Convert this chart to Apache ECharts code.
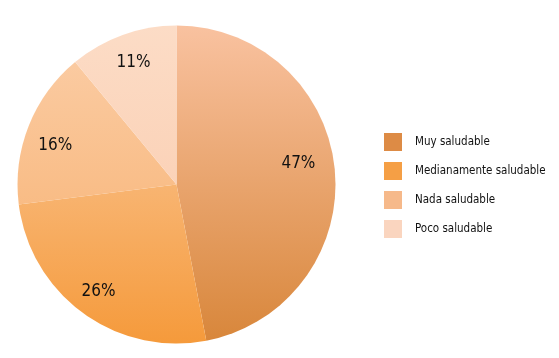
<!DOCTYPE html>
<html><head><meta charset="utf-8">
<script src="https://cdn.jsdelivr.net/npm/echarts@6/dist/echarts.min.js"></script>
<style>html,body{margin:0;padding:0;background:#fff}#c{width:559px;height:358px}</style>
</head><body><div id="c"></div>
<script>
const categories = ['Muy saludable', 'Medianamente saludable', 'Nada saludable', 'Poco saludable'];
const values = [47, 26, 16, 11];
const topColors = ['#F9C2A0', '#FBCFA8', '#FBCEA8', '#FCDCC6'];
const bottomColors = ['#D8863A', '#F59A3B', '#F7AE6A', '#FAC8A9'];
const legendColors = ['#DD8B45', '#F59F45', '#F6B98A', '#FAD5BF'];
const labelNudges = [[-10, -8], [0, 0], [2, 10], [2, 3]];

const cx = 176.5, cy = 184.5, R = 159;
function grad(i) {
  return new echarts.graphic.LinearGradient(0, cy - R, 0, cy + R, [
    { offset: 0, color: topColors[i] },
    { offset: 1, color: bottomColors[i] }
  ], true);
}
const font = "'DejaVu Sans', sans-serif";
const chart = echarts.init(document.getElementById('c'), null, { renderer: 'canvas' });
chart.setOption({
  animation: false,
  legend: {
    orient: 'vertical',
    left: 379, top: 128,
    itemWidth: 18, itemHeight: 18, itemGap: 11,
    icon: 'rect',
    selectedMode: false,
    textStyle: { fontFamily: font, fontWeight: 'condensed', fontSize: 11.5, color: '#111', padding: [0, 0, 0, 8] },
    data: categories.map((n, i) => ({ name: n, itemStyle: { color: legendColors[i] } }))
  },
  series: [
    {
      type: 'pie', center: [cx, cy], radius: [0, R], startAngle: 90, clockwise: true,
      label: { show: false }, labelLine: { show: false }, silent: true,
      itemStyle: { borderWidth: 0 },
      data: categories.map((n, i) => ({ name: n, value: values[i], itemStyle: { color: grad(i) } }))
    },
    {
      type: 'pie', center: [cx, cy], radius: [100, R], startAngle: 90, clockwise: true,
      silent: true, legendHoverLink: false,
      itemStyle: { color: 'rgba(0,0,0,0)', borderWidth: 0 },
      label: { show: true, position: 'inside', formatter: '{c}%', fontFamily: font, fontWeight: 'condensed', fontSize: 17, color: '#111' },
      labelLine: { show: false },
      data: categories.map((n, i) => ({ name: n, value: values[i], label: { offset: labelNudges[i] } }))
    }
  ]
});
</script></body></html>
